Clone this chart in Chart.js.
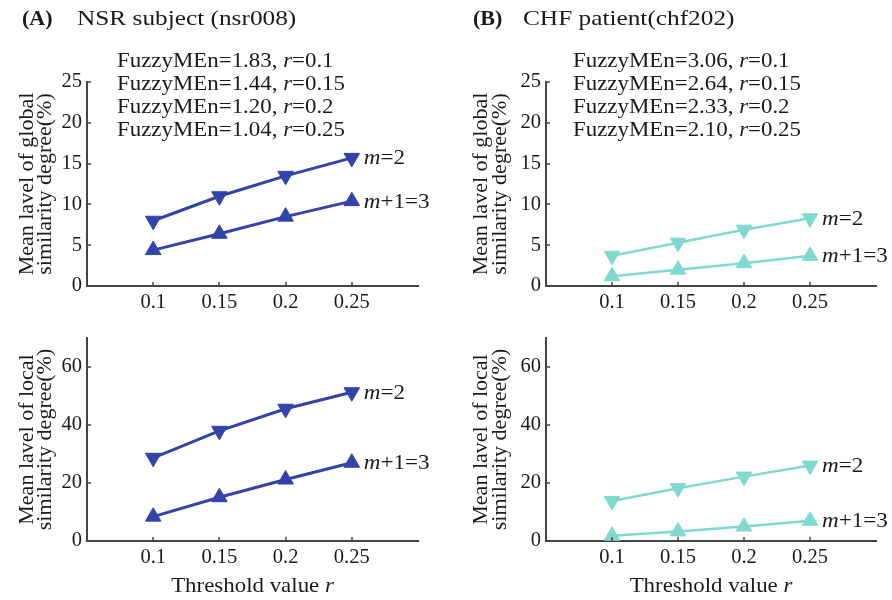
<!DOCTYPE html>
<html>
<head>
<meta charset="utf-8">
<script src="https://cdn.jsdelivr.net/npm/chart.js@4.4.0/dist/chart.umd.min.js"></script>
<style>
  body { margin: 0; background: #fff; }
  #page { position: relative; width: 892px; height: 600px; overflow: hidden; }
  canvas { position: absolute; }
</style>
</head>
<body>
<div id="page">
  <canvas id="nsrGlobal" width="446" height="315" style="left:0;top:0"></canvas>
  <canvas id="chfGlobal" width="446" height="315" style="left:446px;top:0"></canvas>
  <canvas id="nsrLocal" width="446" height="285" style="left:0;top:315px"></canvas>
  <canvas id="chfLocal" width="446" height="285" style="left:446px;top:315px"></canvas>
</div>
<script>
// threshold values r on the x axis
const thresholds = [0.1, 0.15, 0.2, 0.25];
const xTickValues = [0.1, 0.15, 0.2, 0.25];
const globalTicks = [0, 5, 10, 15, 20, 25];
const localTicks = [0, 20, 40, 60];

// NSR subject (nsr008)
const nsrGlobalM2 = [8.0, 11.0, 13.5, 15.7];
const nsrGlobalM3 = [4.4, 6.4, 8.5, 10.4];
const nsrLocalM2 = [28.7, 38.0, 45.6, 51.3];
const nsrLocalM3 = [8.4, 15.1, 21.2, 27.0];
const nsrFuzzyMEn = ['1.83', '1.44', '1.20', '1.04'];

// CHF patient (chf202)
const chfGlobalM2 = [3.7, 5.3, 6.9, 8.3];
const chfGlobalM3 = [1.2, 2.0, 2.8, 3.7];
const chfLocalM2 = [13.8, 18.2, 22.2, 26.0];
const chfLocalM3 = [1.8, 3.3, 5.0, 7.0];
const chfFuzzyMEn = ['3.06', '2.64', '2.33', '2.10'];

const rLabels = ['0.1', '0.15', '0.2', '0.25'];
const FONT = '"Liberation Serif", "Times New Roman", serif';
const BLUE = '#3343a9';
const CYAN = '#7fd9cf';

// draws a line of text where some pieces are italic, sx stretches it sideways
function drawRich(ctx, parts, x, y, size, sx) {
  ctx.save();
  ctx.translate(x, y);
  ctx.scale(sx || 1, 1);
  let cx = 0;
  parts.forEach(([txt, it]) => {
    ctx.font = (it ? 'italic ' : '') + size + 'px ' + FONT;
    ctx.fillText(txt, cx, 0);
    cx += ctx.measureText(txt).width;
  });
  ctx.restore();
  return cx * (sx || 1);
}

function richWidth(ctx, parts, size, sx) {
  let w = 0;
  parts.forEach(([txt, it]) => {
    ctx.font = (it ? 'italic ' : '') + size + 'px ' + FONT;
    w += ctx.measureText(txt).width;
  });
  return w * (sx || 1);
}

const panelText = {
  id: 'panelText',
  afterDraw(chart, args, opts) {
    const ctx = chart.ctx;
    const { left, right, top, bottom } = chart.chartArea;
    const xs = chart.scales.x, ys = chart.scales.y;
    ctx.save();
    ctx.fillStyle = '#1a1a1a';

    // small inward tick marks like matlab
    ctx.strokeStyle = '#444';
    ctx.lineWidth = 1.5;
    xTickValues.forEach(v => {
      const px = Math.round(xs.getPixelForValue(v));
      ctx.beginPath(); ctx.moveTo(px, bottom); ctx.lineTo(px, bottom - 4); ctx.stroke();
    });
    opts.yTicks.forEach(v => {
      const py = Math.round(ys.getPixelForValue(v));
      ctx.beginPath(); ctx.moveTo(left, py); ctx.lineTo(left + 4, py); ctx.stroke();
    });

    ctx.textAlign = 'left';
    ctx.textBaseline = 'alphabetic';
    if (opts.heading) {
      ctx.font = 'bold 22px ' + FONT;
      ctx.fillText(opts.heading[0], opts.heading[2], 25);
      drawRich(ctx, [[opts.heading[1], false]], opts.heading[3], 25, 22, 1.15);
    }

    if (opts.fuzzy) {
      opts.fuzzy.forEach((val, i) => {
        drawRich(ctx, [['FuzzyMEn=' + val + ', ', false], ['r', true], ['=' + rLabels[i], false]],
          opts.fuzzyX, 67 + i * 23, 21, 1.09);
      });
    }

    // y title, two rotated lines
    ctx.font = '22px ' + FONT;
    ctx.textAlign = 'center';
    const cy = (top + bottom) / 2;
    opts.yTitle.forEach((line, i) => {
      ctx.save();
      ctx.translate(opts.yTitleX[i], cy);
      ctx.rotate(-Math.PI / 2);
      ctx.fillText(line, 0, 0);
      ctx.restore();
    });

    ctx.textAlign = 'left';
    if (opts.xTitle) {
      const parts = [['Threshold value ', false], ['r', true]];
      const w = richWidth(ctx, parts, 21, 1.09);
      drawRich(ctx, parts, (left + right) / 2 - w / 2, chart.height - 8, 21, 1.09);
    }

    // series labels next to last point
    ctx.textBaseline = 'middle';
    opts.seriesLabels.forEach((lab, i) => {
      const pts = chart.getDatasetMeta(i).data;
      const p = pts[pts.length - 1];
      drawRich(ctx, lab, p.x + 12, p.y + 1, 21, 1.1);
    });
    ctx.restore();
  }
};

function makePanel(id, cfg) {
  const pts = arr => arr.map((v, i) => ({ x: thresholds[i], y: v }));
  const ds = (arr, rot) => ({
    data: pts(arr),
    borderColor: cfg.color,
    backgroundColor: cfg.color,
    borderWidth: cfg.lineWidth,
    pointStyle: 'triangle',
    rotation: rot,
    pointRadius: 9,
    pointBorderWidth: 1,
    pointBackgroundColor: cfg.color,
    pointBorderColor: cfg.color,
    tension: 0
  });
  return new Chart(document.getElementById(id), {
    type: 'line',
    data: { datasets: [ds(cfg.m2, 180), ds(cfg.m3, 0)] },
    options: {
      responsive: false,
      animation: false,
      layout: { padding: { top: cfg.padTop, right: cfg.padRight, left: 0, bottom: 0 } },
      plugins: {
        legend: { display: false },
        tooltip: { enabled: false },
        panelText: {
          heading: cfg.heading,
          fuzzy: cfg.fuzzy,
          fuzzyX: cfg.fuzzyX,
          yTitle: cfg.yTitle,
          yTitleX: cfg.yTitleX,
          yTicks: cfg.yTicks,
          xTitle: cfg.xTitle,
          seriesLabels: [[['m', true], ['=2', false]], [['m', true], ['+1=3', false]]]
        }
      },
      scales: {
        x: {
          type: 'linear', min: 0.05, max: 0.3,
          afterBuildTicks: s => { s.ticks = xTickValues.map(v => ({ value: v })); },
          afterFit: s => { s.height = cfg.xHeight; },
          grid: { display: false, drawTicks: false },
          border: { display: true, color: '#444', width: 2 },
          ticks: { padding: 4, color: '#1a1a1a', font: { family: FONT, size: 20.5 }, callback: v => String(v), maxRotation: 0 }
        },
        y: {
          type: 'linear', min: 0, max: cfg.yMax,
          afterBuildTicks: s => { s.ticks = cfg.yTicks.map(v => ({ value: v })); },
          afterFit: s => { s.width = cfg.yWidth; },
          grid: { display: false, drawTicks: false },
          border: { display: true, color: '#444', width: 2 },
          ticks: { padding: 5, color: '#1a1a1a', font: { family: FONT, size: 20.5 }, callback: v => String(v) }
        }
      }
    },
    plugins: [panelText]
  });
}

makePanel('nsrGlobal', {
  m2: nsrGlobalM2, m3: nsrGlobalM3, color: BLUE, lineWidth: 3,
  heading: ['(A)', 'NSR subject (nsr008)', 22, 77],
  fuzzy: nsrFuzzyMEn, fuzzyX: 117,
  yTitle: ['Mean lavel of global', 'similarity degree(%)'], yTitleX: [33, 51],
  yTicks: globalTicks, yMax: 25, yWidth: 87, xHeight: 29, padTop: 82, padRight: 28
});
makePanel('chfGlobal', {
  m2: chfGlobalM2, m3: chfGlobalM3, color: CYAN, lineWidth: 2.5,
  heading: ['(B)', 'CHF patient(chf202)', 27, 77],
  fuzzy: chfFuzzyMEn, fuzzyX: 127,
  yTitle: ['Mean lavel of global', 'similarity degree(%)'], yTitleX: [41, 60],
  yTicks: globalTicks, yMax: 25, yWidth: 100, xHeight: 29, padTop: 82, padRight: 16
});
makePanel('nsrLocal', {
  m2: nsrLocalM2, m3: nsrLocalM3, color: BLUE, lineWidth: 3,
  yTitle: ['Mean lavel of local', 'similarity degree(%)'], yTitleX: [33, 51],
  yTicks: localTicks, yMax: 70, yWidth: 87, xHeight: 59, padTop: 23, padRight: 28, xTitle: true
});
makePanel('chfLocal', {
  m2: chfLocalM2, m3: chfLocalM3, color: CYAN, lineWidth: 2.5,
  yTitle: ['Mean lavel of local', 'similarity degree(%)'], yTitleX: [41, 60],
  yTicks: localTicks, yMax: 70, yWidth: 100, xHeight: 59, padTop: 23, padRight: 16, xTitle: true
});
</script>
</body>
</html>
